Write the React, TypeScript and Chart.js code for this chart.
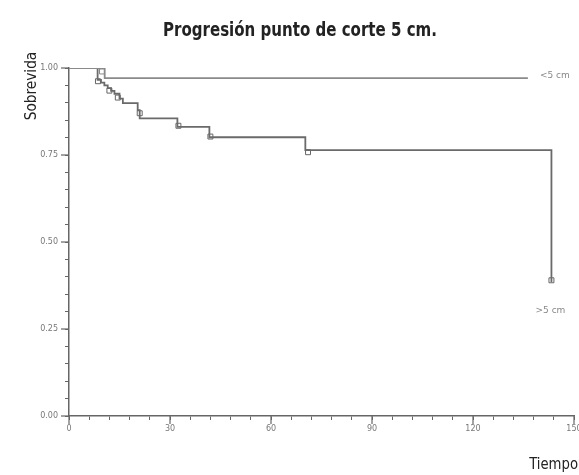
import React, { useEffect, useRef } from "react";
import { Chart, registerables } from "chart.js";

Chart.register(...registerables);

const titleText = "Progresión punto de corte 5 cm.";
const yTitle = "Sobrevida";
const xTitle = "Tiempo";
const seriesLabels = ["<5 cm", ">5 cm"];

const smallTimes = [0, 10.6, 136.3];
const smallSurv = [1.0, 0.971, 0.971];

const largeTimes = [0, 8.5, 9.5, 10.5, 11.5, 12.5, 13.5, 15, 16, 20.4, 21, 32.2, 41.7, 70.2, 143.3];
const largeSurv = [1.0, 0.966, 0.958, 0.95, 0.942, 0.934, 0.926, 0.912, 0.899, 0.879, 0.855, 0.831, 0.801, 0.764, 0.385];

const smallCensorTimes = [9.8];
const smallCensorSurv = [0.99];
const largeCensorTimes = [8.6, 12, 14.5, 21, 32.5, 42, 71, 143.3];
const largeCensorSurv = [0.962, 0.935, 0.915, 0.87, 0.834, 0.803, 0.758, 0.39];

const xMajorTicks = [0, 30, 60, 90, 120, 150];
const yMajorTicks = [0, 0.25, 0.5, 0.75, 1.0];

const NARROW = '"Liberation Sans Narrow", "DejaVu Sans Condensed", "Roboto Condensed", sans-serif';

const toPts = (xs: number[], ys: number[]) => xs.map((x, i) => ({ x, y: ys[i] }));

const fitText = (ctx: any, text: string, cx: number, y: number, targetW: number) => {
  const w = ctx.measureText(text).width;
  const sx = Math.min(1, targetW / w);
  ctx.save();
  ctx.translate(cx, y);
  ctx.scale(sx, 1);
  ctx.textAlign = "center";
  ctx.fillText(text, 0, 0);
  ctx.restore();
};

const decorPlugin = {
  id: "decor",
  afterDraw(chart: any) {
    const { ctx, scales } = chart;
    const xs = scales.x;
    const ys = scales.y;
    ctx.save();
    ctx.strokeStyle = "#666";
    ctx.lineWidth = 1.2;
    xMajorTicks.forEach((v) => {
      const px = xs.getPixelForValue(v);
      ctx.beginPath();
      ctx.moveTo(px, ys.bottom);
      ctx.lineTo(px, ys.bottom + 8);
      ctx.stroke();
    });
    yMajorTicks.forEach((v) => {
      const py = ys.getPixelForValue(v);
      ctx.beginPath();
      ctx.moveTo(xs.left - 8, py);
      ctx.lineTo(xs.left, py);
      ctx.stroke();
    });
    // title
    ctx.fillStyle = "#222";
    ctx.font = `bold 19px ${NARROW}`;
    ctx.textBaseline = "alphabetic";
    fitText(ctx, titleText, 300, 36, 274);
    // x title
    ctx.font = `16px ${NARROW}`;
    ctx.save();
    ctx.translate(578, 469);
    ctx.scale(0.92, 1);
    ctx.textAlign = "right";
    ctx.fillText(xTitle, 0, 0);
    ctx.restore();
    // y title
    ctx.save();
    ctx.translate(36, 86);
    ctx.rotate(-Math.PI / 2);
    ctx.scale(0.95, 1);
    ctx.textAlign = "center";
    ctx.fillText(yTitle, 0, 0);
    ctx.restore();
    // series labels
    ctx.fillStyle = "#888";
    ctx.font = `9px "DejaVu Sans", sans-serif`;
    ctx.textAlign = "left";
    ctx.textBaseline = "middle";
    ctx.fillText(seriesLabels[0], xs.getPixelForValue(smallTimes[smallTimes.length - 1]) + 12, ys.getPixelForValue(smallSurv[smallSurv.length - 1]) - 2);
    ctx.textAlign = "center";
    ctx.fillText(seriesLabels[1], xs.getPixelForValue(largeTimes[largeTimes.length - 1]) - 1, ys.getPixelForValue(largeSurv[largeSurv.length - 1]) + 29);
    ctx.restore();
  },
};

export default function App() {
  const ref = useRef<HTMLCanvasElement>(null);
  useEffect(() => {
    if (!ref.current) return;
    const chart = new Chart(ref.current, {
      type: "line",
      data: {
        datasets: [
          {
            label: seriesLabels[0],
            data: toPts(smallTimes, smallSurv),
            stepped: "before",
            borderColor: "#8a8a8a",
            borderWidth: 1.8,
            pointRadius: 0,
            fill: false,
          },
          {
            label: seriesLabels[1],
            data: toPts(largeTimes, largeSurv),
            stepped: "before",
            borderColor: "#6a6a6a",
            borderWidth: 1.8,
            pointRadius: 0,
            fill: false,
          },
          {
            label: "censor1",
            data: toPts(smallCensorTimes, smallCensorSurv),
            showLine: false,
            pointStyle: "rect",
            pointRadius: 3.5,
            borderColor: "#888",
            borderWidth: 1,
            backgroundColor: "rgba(255,255,255,0)",
          },
          {
            label: "censor2",
            data: toPts(largeCensorTimes, largeCensorSurv),
            showLine: false,
            pointStyle: "rect",
            pointRadius: 3.5,
            borderColor: "#666",
            borderWidth: 1,
            backgroundColor: "rgba(255,255,255,0)",
          },
        ],
      },
      options: {
        responsive: false,
        animation: false,
        layout: { padding: { top: 68, right: 2, left: 0, bottom: 0 } },
        plugins: { legend: { display: false }, title: { display: false }, tooltip: { enabled: false } },
        scales: {
          x: {
            type: "linear",
            min: 0,
            max: 150,
            afterFit: (s: any) => {
              s.height = 59;
              s.paddingLeft = 0;
              s.paddingRight = 0;
            },
            grid: { drawOnChartArea: false, tickLength: 4, tickColor: "#666", tickWidth: 1 },
            border: { color: "#666", width: 1.5 },
            ticks: {
              stepSize: 6,
              autoSkip: false,
              maxRotation: 0,
              padding: 4,
              color: "#777",
              font: { size: 8, family: '"DejaVu Sans", sans-serif' },
              callback: (v: any) => (Math.abs(v % 30) < 1e-6 ? String(v) : ""),
            },
          },
          y: {
            type: "linear",
            min: 0,
            max: 1,
            afterFit: (s: any) => {
              s.width = 69;
              s.paddingTop = 0;
              s.paddingBottom = 0;
            },
            grid: { drawOnChartArea: false, tickLength: 4, tickColor: "#666", tickWidth: 1 },
            border: { color: "#666", width: 1.5 },
            ticks: {
              stepSize: 0.05,
              autoSkip: false,
              padding: 7,
              color: "#777",
              font: { size: 8, family: '"DejaVu Sans", sans-serif' },
              callback: (v: any) => {
                const q = v * 4;
                return Math.abs(q - Math.round(q)) < 1e-6 ? Number(v).toFixed(2) : "";
              },
            },
          },
        },
      },
      plugins: [decorPlugin],
    });
    return () => chart.destroy();
  }, []);
  return (
    <div style={{ position: "absolute", left: 0, top: 0, width: 579, height: 475, background: "#fff" }}>
      <canvas ref={ref} width={579} height={475} />
    </div>
  );
}
